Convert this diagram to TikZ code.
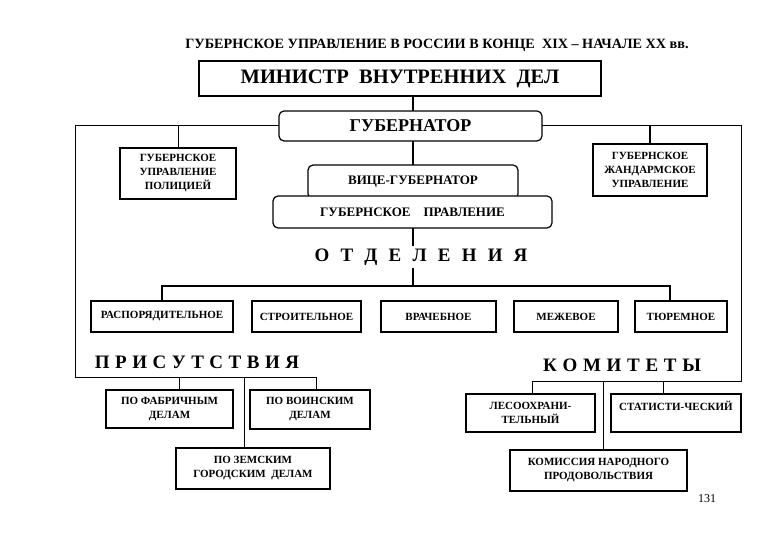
\documentclass[tikz,border=0pt]{standalone}
\usepackage{fontspec}
\setmainfont{Liberation Serif}[BoldFont={Liberation Serif Bold}]
\newcommand\lspaced[2]{{\spaceskip=#1\relax #2}}
\begin{document}
\begin{tikzpicture}[x=1pt,y=-1pt,
  box/.style={draw,line width=1.2pt,fill=white,align=center,inner sep=1pt,outer sep=0pt,
    font=\rmfamily\bfseries\fontsize{11}{14}\selectfont},
  rbox/.style={box,rounded corners=5pt},
  lnthin/.style={line width=1pt},
  lnthick/.style={line width=2pt},
  big/.style={font=\rmfamily\bfseries\fontsize{19}{21}\selectfont,inner sep=2pt}
]
\useasboundingbox (0,0) rectangle (780,540);
\fill[white] (0,0) rectangle (780,540);

% title
\node[font=\rmfamily\bfseries\fontsize{14.2}{16}\selectfont] (title) at (437,45)
  {ГУБЕРНСКОЕ УПРАВЛЕНИЕ В РОССИИ В КОНЦЕ\ \ XIX – НАЧАЛЕ XX вв.};

% top
\node[box, minimum width=402, minimum height=35, font=\rmfamily\bfseries\fontsize{20.5}{22}\selectfont] (min) at (400,78.5)
  {МИНИСТР\ \ ВНУТРЕННИХ\ \ ДЕЛ};
\node[rbox, minimum width=263, minimum height=30, font=\rmfamily\bfseries\fontsize{18}{20}\selectfont] (gov) at (410.5,126)
  {ГУБЕРНАТОР};
\node[box, minimum width=116, minimum height=51] (pol) at (178,173.5)
  {ГУБЕРНСКОЕ\\УПРАВЛЕНИЕ\\ПОЛИЦИЕЙ};
\node[box, minimum width=114, minimum height=52] (gen) at (650,170)
  {ГУБЕРНСКОЕ\\ЖАНДАРМСКОЕ\\УПРАВЛЕНИЕ};
\node[rbox, minimum width=210, minimum height=34, font=\rmfamily\bfseries\fontsize{13}{15}\selectfont] (vice) at (413,182)
  {ВИЦЕ-ГУБЕРНАТОР};
\node[rbox, minimum width=279, minimum height=32, font=\rmfamily\bfseries\fontsize{13}{15}\selectfont] (prav) at (412.5,212)
  {ГУБЕРНСКОЕ\ \ \ \ ПРАВЛЕНИЕ};

% otdeleniya
\node[big] (otd) at (421,257) {\lspaced{11.2pt}{О Т Д Е Л Е Н И Я}};
\node[box, minimum width=142, minimum height=31] (rasp) at (162,316.5) {РАСПОРЯДИТЕЛЬНОЕ};
\node[box, minimum width=109, minimum height=31] (stro) at (306.5,316.5) {СТРОИТЕЛЬНОЕ};
\node[box, minimum width=115, minimum height=31] (vrach) at (438.5,316.5) {ВРАЧЕБНОЕ};
\node[box, minimum width=104, minimum height=31] (mezh) at (566,316.5) {МЕЖЕВОЕ};
\node[box, minimum width=92, minimum height=31] (tyur) at (681,316.5) {ТЮРЕМНОЕ};

% prisutstviya
\node[big] (pris) at (197,362) {\lspaced{5.5pt}{П Р И С У Т С Т В И Я}};
\node[box, minimum width=127, minimum height=38] (fab) at (169.5,409) {ПО ФАБРИЧНЫМ\\ДЕЛАМ};
\node[box, minimum width=120, minimum height=39] (voin) at (310,409.5) {ПО ВОИНСКИМ\\ДЕЛАМ};
\node[box, minimum width=154, minimum height=41] (zem) at (253,468.5) {ПО ЗЕМСКИМ\\ГОРОДСКИМ\ \ ДЕЛАМ};

% komitety
\node[big] (komt) at (622,365) {\lspaced{5.7pt}{К О М И Т Е Т Ы}};
\node[box, minimum width=129, minimum height=38] (les) at (530.5,413) {ЛЕСООХРАНИ-\\ТЕЛЬНЫЙ};
\node[box, minimum width=130, minimum height=38] (stat) at (676,413) {СТАТИСТИ-ЧЕСКИЙ\\\mbox{}};
\node[box, minimum width=177, minimum height=41] (kom) at (598.5,470.5) {КОМИССИЯ НАРОДНОГО\\ПРОДОВОЛЬСТВИЯ};

\node[font=\rmfamily\fontsize{12}{14}\selectfont] (pg) at (707,499) {131};

% coordinates
\coordinate (spine) at (413,0);
\coordinate (busL) at (162,286);
\coordinate (busR) at (670,286);
\coordinate (lf1) at (75,126);
\coordinate (lf2) at (75,378);
\coordinate (lf3) at (316,378);
\coordinate (pf) at (179,378);
\coordinate (pz) at (244,378);
\coordinate (rf1) at (741,125);
\coordinate (rf2) at (741,382);
\coordinate (rf3) at (532,382);
\coordinate (ps) at (663,382);
\coordinate (pk) at (603,382);

% connectors
\draw[lnthick] (min.south -| spine) -- (gov.north -| spine);
\draw[lnthick] (gov.south -| spine) -- (vice.north -| spine);
\draw[lnthick] (prav.south -| spine) -- (otd.north -| spine);
\draw[lnthick] (otd.south -| spine) -- (spine |- busL);
\draw[lnthick] (rasp.north) -- (rasp.north |- busL) -- (busR) -- (tyur.north -| busR);

\draw[lnthin] (gov.west) -- (gov.west -| lf1) -- (lf2) -- (lf3) -- (voin.north -| lf3);
\draw[lnthin] (pol.north) -- (pol.north |- lf1);
\draw[lnthin] (pf) -- (fab.north -| pf);
\draw[lnthin] (pz) -- (zem.north -| pz);

\draw[lnthin] (gov.east) -- (gov.east -| rf1) -- (rf2) -- (rf3) -- (les.north -| rf3);
\draw[lnthick] (gen.north) -- (gen.north |- gov.east);
\draw[lnthin] (ps) -- (stat.north -| ps);
\draw[lnthin] (pk) -- (kom.north -| pk);
\end{tikzpicture}
\end{document}
